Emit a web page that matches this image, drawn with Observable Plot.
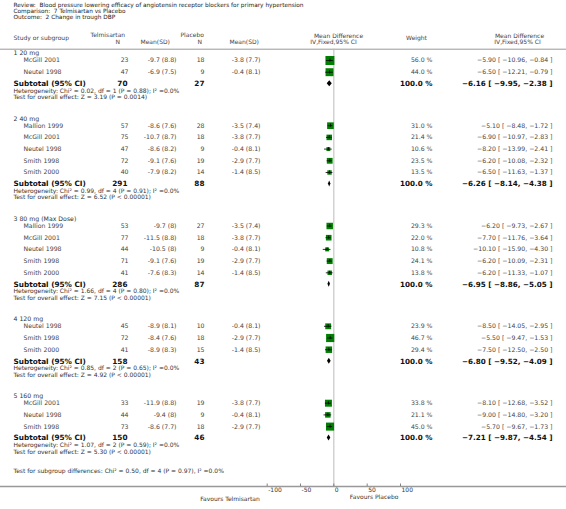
<!DOCTYPE html>
<html><head><meta charset="utf-8">
<script src="https://cdn.jsdelivr.net/npm/d3@7"></script>
<script src="https://cdn.jsdelivr.net/npm/@observablehq/plot@0.6"></script>
<style>body{margin:0;background:#fff;}</style>
</head><body><div id="chart"></div>
<script>
// ---------- DATA ----------
const titleLines = [
  "Review:  Blood pressure lowering efficacy of angiotensin receptor blockers for primary hypertension",
  "Comparison:  7 Telmisartan vs Placebo",
  "Outcome:  2 Change in trough DBP"
];
const groups = ["1 20 mg", "2 40 mg", "3 80 mg (Max Dose)", "4 120 mg", "5 160 mg"];
const studyGroup = [0,0, 1,1,1,1,1, 2,2,2,2,2, 3,3,3, 4,4,4];
const studyName = ["McGill 2001","Neutel 1998",
  "Mallion 1999","McGill 2001","Neutel 1998","Smith 1998","Smith 2000",
  "Mallion 1999","McGill 2001","Neutel 1998","Smith 1998","Smith 2000",
  "Neutel 1998","Smith 1998","Smith 2000",
  "McGill 2001","Neutel 1998","Smith 1998"];
const telN    = [23,47, 57,75,47,72,40, 53,77,44,71,41, 45,72,41, 33,44,73];
const telMean = [-9.7,-6.9, -8.6,-10.7,-8.6,-9.1,-7.9, -9.7,-11.5,-10.5,-9.1,-7.6, -8.9,-8.4,-8.9, -11.9,-9.4,-8.6];
const telSD   = [8.8,7.5, 7.6,8.7,8.2,7.6,8.2, 8,8.8,8,7.6,8.3, 8.1,7.6,8.3, 8.8,8,7.7];
const plaN    = [18,9, 28,18,9,19,14, 27,18,9,19,14, 10,18,15, 19,9,18];
const plaMean = [-3.8,-0.4, -3.5,-3.8,-0.4,-2.9,-1.4, -3.5,-3.8,-0.4,-2.9,-1.4, -0.4,-2.9,-1.4, -3.8,-0.4,-2.9];
const plaSD   = [7.7,8.1, 7.4,7.7,8.1,7.7,8.5, 7.4,7.7,8.1,7.7,8.5, 8.1,7.7,8.5, 7.7,8.1,7.7];
const weight  = [56.0,44.0, 31.0,21.4,10.6,23.5,13.5, 29.3,22.0,10.8,24.1,13.8, 23.9,46.7,29.4, 33.8,21.1,45.0];
const md      = [-5.90,-6.50, -5.10,-6.90,-8.20,-6.20,-6.50, -6.20,-7.70,-10.10,-6.20,-6.20, -8.50,-5.50,-7.50, -8.10,-9.00,-5.70];
const ciLo    = [-10.96,-12.21, -8.48,-10.97,-13.99,-10.08,-11.63, -9.73,-11.76,-15.90,-10.09,-11.33, -14.05,-9.47,-12.50, -12.68,-14.80,-9.67];
const ciHi    = [-0.84,-0.79, -1.72,-2.83,-2.41,-2.32,-1.37, -2.67,-3.64,-4.30,-2.31,-1.07, -2.95,-1.53,-2.50, -3.52,-3.20,-1.73];

const subTelN = [70,291,286,158,150];
const subPlaN = [27,88,87,43,46];
const subMD   = [-6.16,-6.26,-6.95,-6.80,-7.21];
const subLo   = [-9.95,-8.14,-8.86,-9.52,-9.87];
const subHi   = [-2.38,-4.38,-5.05,-4.09,-4.54];
const hetChi  = ["0.02","0.99","1.66","0.85","1.07"];
const hetDf   = [1,4,4,2,2];
const hetP    = ["0.88","0.91","0.80","0.65","0.59"];
const hetI2   = ["0.0%","0.0%","0.0%","0.0%","0.0%"];
const zVal    = ["3.19","6.52","7.15","4.92","5.30"];
const zP      = ["P = 0.0014","P < 0.00001","P < 0.00001","P < 0.00001","P < 0.00001"];
const subgroupDiff = "Test for subgroup differences: Chi\u00b2 = 0.50, df = 4 (P = 0.97), I\u00b2 =0.0%";

const axisTicks = [-100, -50, 0, 50, 100];
const favoursLeft = "Favours Telmisartan";
const favoursRight = "Favours Placebo";

// ---------- LAYOUT ----------
const W = 566, H = 509, axisY = 486, headLineY = 48.7;
const xDomain = [-100, 100], xRange = [266.7, 400];
// column pixel positions are converted into the plot's x scale units
const px = p => xDomain[0] + (p - xRange[0]) * (xDomain[1] - xDomain[0]) / (xRange[1] - xRange[0]);
const col = {left: 13, indent: 23, telN: 128, telMS: 176, plaN: 204, plaMS: 260, weight: 432, ci: 552};
const fmt2 = d3.format(".2f");
const fmt1 = d3.format(".1f");

const groupRows = [], studyRows = [], subRows = [], infoRows = [], diamonds = [];
let y = 53;
groups.forEach((g, gi) => {
  groupRows.push({text: g, y});
  y += 7;
  let first = true;
  studyGroup.forEach((sg, i) => {
    if (sg !== gi) return;
    if (!first) y += 11.7;
    first = false;
    studyRows.push({
      name: studyName[i], y,
      tN: String(telN[i]), tMS: `${telMean[i]} (${telSD[i]})`,
      pN: String(plaN[i]), pMS: `${plaMean[i]} (${plaSD[i]})`,
      w: weight[i], wt: fmt1(weight[i]) + " %",
      md: md[i], lo: ciLo[i], hi: ciHi[i],
      ci: `${fmt2(md[i])} [ ${fmt2(ciLo[i])}, ${fmt2(ciHi[i])} ]`
    });
  });
  y += 11.5;
  subRows.push({y, tN: String(subTelN[gi]), pN: String(subPlaN[gi]),
    ci: `${fmt2(subMD[gi])} [ ${fmt2(subLo[gi])}, ${fmt2(subHi[gi])} ]`});
  diamonds.push({g: gi, y: y - 3, x1: subMD[gi], x2: subMD[gi]});
  diamonds.push({g: gi, y: y, x1: subLo[gi], x2: subHi[gi]});
  diamonds.push({g: gi, y: y + 3, x1: subMD[gi], x2: subMD[gi]});
  y += 7;
  infoRows.push({y, text: `Heterogeneity: Chi\u00b2 = ${hetChi[gi]}, df = ${hetDf[gi]} (P = ${hetP[gi]}); I\u00b2 =${hetI2[gi]}`});
  y += 6.5;
  infoRows.push({y, text: `Test for overall effect: Z = ${zVal[gi]} (${zP[gi]})`});
  y += 21.5;
});
infoRows.push({y: y - 2, text: subgroupDiff});

const titleRows = titleLines.map((t, i) => ({text: t, y: 5 + i * 6}));
const headers = [
  {text: "Study or subgroup", y: 38, p: col.left, a: "start"},
  {text: "Telmisartan", y: 35, p: 90, a: "start"},
  {text: "N", y: 42, p: 115, a: "start"},
  {text: "Mean(SD)", y: 42, p: 140, a: "start"},
  {text: "Placebo", y: 35, p: 180, a: "start"},
  {text: "N", y: 42, p: 197, a: "start"},
  {text: "Mean(SD)", y: 42, p: 229, a: "start"},
  {text: "Mean Difference", y: 36, p: 338, a: "middle"},
  {text: "IV,Fixed,95% CI", y: 42, p: 333, a: "middle"},
  {text: "Weight", y: 38, p: 416, a: "middle"},
  {text: "Mean Difference", y: 36, p: 519, a: "middle"},
  {text: "IV,Fixed,95% CI", y: 42, p: 517, a: "middle"}
];

const green = "#008000";
const txt = "#333";
const at = p => () => px(p);
const base = {fontSize: 6.2, fill: "#444"};
const bold = {fontSize: 7.3, fontWeight: "bold", fill: "#111"};

const chart = Plot.plot({
  width: W, height: H,
  marginTop: 0, marginLeft: 0, marginRight: 0, marginBottom: H - axisY,
  x: {domain: xDomain, range: xRange},
  y: {type: "identity", axis: null},
  r: {type: "identity"},
  style: {fontFamily: "DejaVu Sans", background: "white", color: txt},
  marks: [
    // title block
    Plot.text(titleRows, {x: at(col.left), y: "y", text: "text", textAnchor: "start", fontSize: 5.8, fill: "#222"}),
    // column headers
    ...headers.map(h => Plot.text([h], {x: at(h.p), y: "y", text: "text", textAnchor: h.a, fill: "#444", fontSize: 6})),
    // header rule
    Plot.ruleY([headLineY], {stroke: "#999", strokeWidth: 1}),
    // zero line
    Plot.ruleX([0], {y1: headLineY, y2: axisY, stroke: "#bbb", strokeWidth: 1}),
    // group headers
    Plot.text(groupRows, {...base, x: at(col.left), y: "y", text: "text", textAnchor: "start", fill: "#333"}),
    // studies text
    Plot.text(studyRows, {...base, x: at(col.indent), y: "y", text: "name", textAnchor: "start"}),
    Plot.text(studyRows, {...base, x: at(col.telN), y: "y", text: "tN", textAnchor: "end"}),
    Plot.text(studyRows, {...base, x: at(col.telMS), y: "y", text: "tMS", textAnchor: "end"}),
    Plot.text(studyRows, {...base, x: at(col.plaN), y: "y", text: "pN", textAnchor: "end"}),
    Plot.text(studyRows, {...base, x: at(col.plaMS), y: "y", text: "pMS", textAnchor: "end"}),
    Plot.text(studyRows, {...base, x: at(col.weight), y: "y", text: "wt", textAnchor: "end"}),
    Plot.text(studyRows, {...base, x: at(col.ci), y: "y", text: "ci", textAnchor: "end"}),
    // subtotals
    Plot.text(subRows, {...bold, x: at(col.left), y: "y", text: () => "Subtotal (95% CI)", textAnchor: "start"}),
    Plot.text(subRows, {...bold, x: at(col.telN - 1), y: "y", text: "tN", textAnchor: "end"}),
    Plot.text(subRows, {...bold, x: at(col.plaN), y: "y", text: "pN", textAnchor: "end"}),
    Plot.text(subRows, {...bold, fontSize: 7.2, x: at(col.weight), y: "y", text: () => "100.0 %", textAnchor: "end"}),
    Plot.text(subRows, {...bold, fontSize: 7.2, x: at(col.ci), y: "y", text: "ci", textAnchor: "end"}),
    // heterogeneity and tests
    Plot.text(infoRows, {x: at(col.left), y: "y", text: "text", textAnchor: "start", fontSize: 6, fill: "#333"}),
    // study boxes
    Plot.dot(studyRows, {x: "md", y: "y", symbol: "square", r: d => 1.2 * Math.sqrt(d.w) / Math.sqrt(Math.PI), fill: green, stroke: "none"}),
    Plot.ruleY(studyRows, {y: "y", x1: "lo", x2: "hi", stroke: "black", strokeWidth: 0.8}),
    Plot.ruleX(studyRows, {x: "md", y1: d => d.y - 1.6, y2: d => d.y + 1.6, stroke: "black", strokeWidth: 0.8}),
    // diamonds
    Plot.areaX(diamonds, {y: "y", x1: "x1", x2: "x2", z: "g", fill: "black", curve: "linear"}),
    // axis
    Plot.ruleY([axisY], {stroke: "#999", strokeWidth: 1.5}),
    Plot.ruleX(axisTicks, {x: d => d, y1: axisY - 2.5, y2: axisY, stroke: "#666", strokeWidth: 0.8}),
    Plot.axisX({anchor: "bottom", ticks: axisTicks, tickSize: 0, tickPadding: 1, textAnchor: "start", dx: 1, fontSize: 6, fill: "#333", tickFormat: d => String(d)}),
    Plot.text([favoursLeft], {x: 0, y: () => axisY + 13, text: d => d, textAnchor: "end", dx: -74, fontSize: 6, fill: "#333"}),
    Plot.text([favoursRight], {x: 0, y: () => axisY + 11, text: d => d, textAnchor: "start", dx: 16, fontSize: 6, fill: "#333"})
  ]
});
document.getElementById("chart").appendChild(chart);
</script></body></html>
